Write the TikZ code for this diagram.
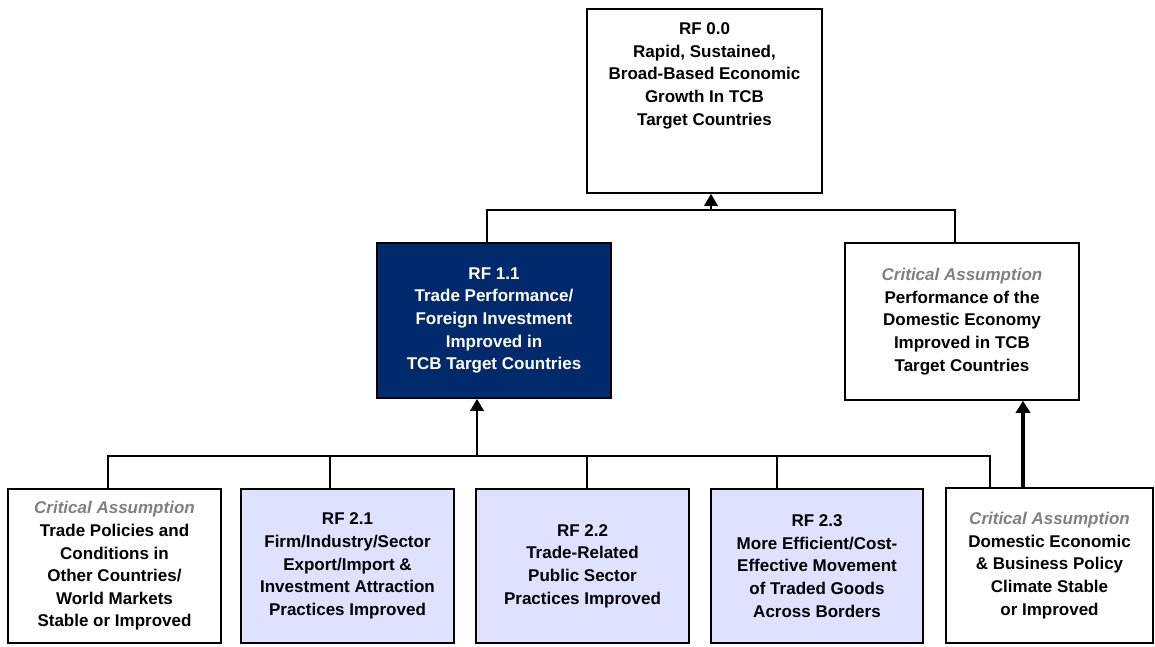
\documentclass[tikz,border=0pt]{standalone}
\usepackage{fontspec}
\setmainfont{Liberation Sans}
\usetikzlibrary{arrows.meta,calc}
\definecolor{navy}{RGB}{0,42,108}
\definecolor{lavender}{RGB}{224,224,255}
\definecolor{cagray}{RGB}{128,128,128}
\tikzset{
  box/.style={draw=black, line width=1.5pt, fill=white, inner sep=0pt, align=center,
    font=\fontsize{17}{22.6}\selectfont\bfseries},
  navybox/.style={box, fill=navy, text=white},
  rfbox/.style={box, fill=lavender},
  conn/.style={draw=black, line width=1.8pt},
  uparrow/.style={conn, line width=2.8pt, -{Triangle[width=13pt,length=12pt]}},
  bigarrow/.style={conn, line width=4.5pt, -{Triangle[width=14pt,length=12pt]}},
}
\newcommand{\ca}{{\color{cagray}\itshape Critical Assumption}}
\begin{document}
\begin{tikzpicture}[x=1pt,y=-1pt]
\useasboundingbox (0,0) rectangle (1155,646);

% goal box and its text
\node[box, minimum width=235pt, minimum height=184pt] (top) at (704.5,101) {};
\node[box, draw=none, fill=none, anchor=north] (toptext) at (704.5,22)
  {RF 0.0\\Rapid, Sustained,\\Broad-Based Economic\\Growth In TCB\\Target Countries};

% middle row
\node[navybox, minimum width=234pt, minimum height=155pt] (rf11) at (494,320.5)
  {RF 1.1\\Trade Performance/\\Foreign Investment\\Improved in\\TCB Target Countries};
\node[box, minimum width=234pt, minimum height=157pt] (ca1) at (962,321.5)
  {\ca\\Performance of the\\Domestic Economy\\Improved in TCB\\Target Countries};

% bottom row
\node[box, minimum width=213pt, minimum height=154pt] (b1) at (114.5,566)
  {\ca\\Trade Policies and\\Conditions in\\Other Countries/\\World Markets\\Stable or Improved};
\node[rfbox, minimum width=213pt, minimum height=154pt] (b2) at (347.5,566)
  {RF 2.1\\Firm/Industry/Sector\\Export/Import \&\\Investment Attraction\\Practices Improved};
\node[rfbox, minimum width=213pt, minimum height=154pt] (b3) at (582.5,566)
  {RF 2.2\\Trade-Related\\Public Sector\\Practices Improved};
\node[rfbox, minimum width=212pt, minimum height=154pt] (b4) at (817,566)
  {RF 2.3\\More Efficient/Cost-\\Effective Movement\\of Traded Goods\\Across Borders};
\node[box, minimum width=207pt, minimum height=155pt] (b5) at (1049.5,565.5)
  {\ca\\Domestic Economic\\\& Business Policy\\Climate Stable\\or Improved};

% upper bus
\coordinate (j0) at (711,210);
\draw[conn] ($(rf11.north)+(-7,0)$) |- (j0) -| ($(ca1.north)+(-7,0)$);
\draw[uparrow] (j0) -- (j0 |- top.south);

% lower bus
\coordinate (j1) at (477,456);
\coordinate (d1) at ($(b1.north)+(-6.5,0)$);
\coordinate (d2) at ($(b2.north)+(-17.5,0)$);
\coordinate (d3) at ($(b3.north)+(4.5,0)$);
\coordinate (d4) at ($(b4.north)+(-40,0)$);
\coordinate (d5) at ($(b5.north)+(-59.5,0)$);
\draw[conn] (d1) |- (j1) -| (d5);
\draw[conn] (d2) -- (d2 |- j1);
\draw[conn] (d3) -- (d3 |- j1);
\draw[conn] (d4) -- (d4 |- j1);
\draw[uparrow] (j1) -- (j1 |- rf11.south);

% right-hand support arrow
\coordinate (d6) at ($(b5.north)+(-26.5,0)$);
\draw[bigarrow] (d6) -- (d6 |- ca1.south);
\end{tikzpicture}
\end{document}
